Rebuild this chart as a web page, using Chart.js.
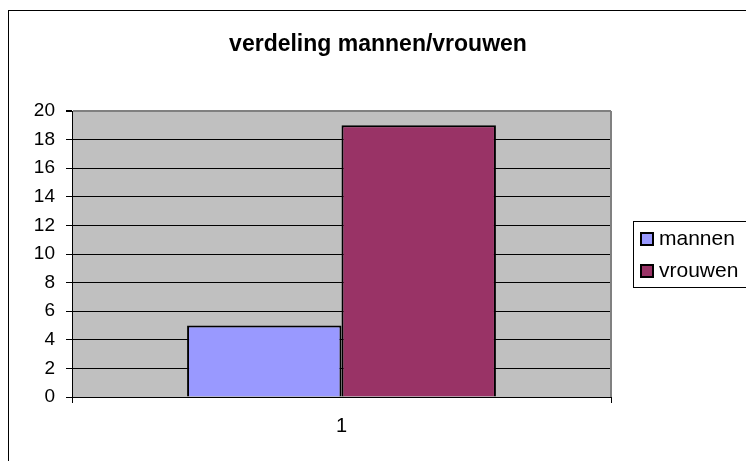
<!DOCTYPE html>
<html lang="nl">
<head>
    <meta charset="UTF-8">
    <title>verdeling mannen/vrouwen</title>
    <script src="https://cdn.jsdelivr.net/npm/chart.js@4.4.0/dist/chart.umd.min.js"></script>
    <style>
        html, body { margin: 0; padding: 0; background: #fff; }
        canvas { display: block; }
    </style>
</head>
<body>
    <canvas id="chart" width="746" height="461"></canvas>
    <script>
        const chartTitle = 'verdeling mannen/vrouwen';
        const categories = ['1'];
        const mannen = [5];
        const vrouwen = [19];
        const seriesNames = ['mannen', 'vrouwen'];
        const seriesColors = ['#9999ff', '#993366'];
        const Y_MIN = 0, Y_MAX = 20, Y_STEP = 2;
        const FONT = "'Liberation Sans', Arial, sans-serif";

        // grey plot area, outer frame, centred title and boxed legend like the old Excel chart
        const excelLook = {
            id: 'excelLook',
            beforeDraw(chart) {
                const { ctx, chartArea: a } = chart;
                ctx.save();
                ctx.fillStyle = '#c0c0c0';
                ctx.fillRect(a.left, a.top, a.right - a.left, a.bottom - a.top);
                ctx.restore();
            },
            afterDraw(chart) {
                const { ctx, chartArea: a } = chart;
                ctx.save();
                // plot area border (right side)
                ctx.strokeStyle = '#808080';
                ctx.lineWidth = 2;
                ctx.beginPath();
                ctx.moveTo(a.right, a.top);
                ctx.lineTo(a.right, a.bottom);
                ctx.stroke();
                // outer frame
                ctx.strokeStyle = '#000';
                ctx.lineWidth = 1;
                ctx.strokeRect(8.5, 10.5, 800, 500);
                // title, centred on the whole frame
                ctx.fillStyle = '#000';
                ctx.font = 'bold 23px ' + FONT;
                ctx.textAlign = 'center';
                ctx.textBaseline = 'alphabetic';
                ctx.fillText(chartTitle, 378, 51);
                // legend
                ctx.strokeRect(633.5, 221.5, 150, 66);
                ctx.font = '21px ' + FONT;
                ctx.textAlign = 'left';
                seriesNames.forEach((name, i) => {
                    const y = 233 + i * 32;
                    ctx.fillStyle = seriesColors[i];
                    ctx.fillRect(641, y, 12, 12);
                    ctx.lineWidth = 2;
                    ctx.strokeStyle = '#000';
                    ctx.strokeRect(641, y, 12, 12);
                    ctx.fillStyle = '#000';
                    ctx.fillText(name, 659, y + 12);
                });
                ctx.restore();
            }
        };

        new Chart(document.getElementById('chart').getContext('2d'), {
            type: 'bar',
            data: {
                labels: categories,
                datasets: [
                    { label: seriesNames[0], data: mannen, backgroundColor: seriesColors[0], borderColor: '#000', borderWidth: 2 },
                    { label: seriesNames[1], data: vrouwen, backgroundColor: seriesColors[1], borderColor: '#000', borderWidth: 2 }
                ]
            },
            options: {
                responsive: false,
                animation: false,
                layout: { padding: { left: 0, right: 135, top: 111, bottom: 0 } },
                datasets: { bar: { categoryPercentage: 0.573, barPercentage: 1 } },
                scales: {
                    x: {
                        grid: { display: true, offset: true, drawOnChartArea: false, tickLength: 6, color: '#000' },
                        border: { color: '#000', width: 1 },
                        ticks: { color: '#000', font: { family: FONT, size: 20 }, padding: 11 },
                        afterFit(scale) { scale.height = 64; }
                    },
                    y: {
                        min: Y_MIN,
                        max: Y_MAX,
                        grid: {
                            color: c => (c.tick && c.tick.value === Y_MAX) ? '#808080' : '#000',
                            lineWidth: c => (c.tick && c.tick.value === Y_MAX) ? 2 : 1,
                            tickColor: '#000',
                            tickLength: 6
                        },
                        border: { color: '#000', width: 1 },
                        ticks: { stepSize: Y_STEP, color: '#000', font: { family: FONT, size: 19 }, padding: 11 },
                        afterFit(scale) { scale.width = 72; }
                    }
                },
                plugins: {
                    legend: { display: false },
                    tooltip: { enabled: false },
                    title: { display: false }
                }
            },
            plugins: [excelLook]
        });
    </script>
</body>
</html>
